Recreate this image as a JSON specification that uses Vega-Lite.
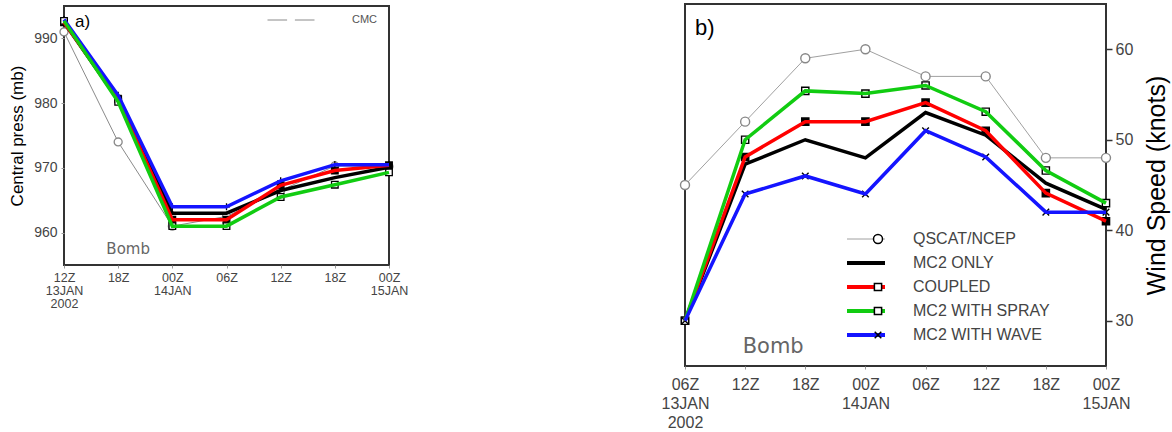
{
  "$schema": "https://vega.github.io/schema/vega-lite/v6.json",
  "padding": {"left": 7, "top": 3, "right": 0, "bottom": 0},
  "background": "white",
  "config": {
    "view": {"stroke": "#333", "strokeWidth": 2},
    "font": "Liberation Sans",
    "legend": {"padding": 0}
  },
  "datasets": {
    "press": [
      {"t": "2002-01-13T12", "series": "CMC", "v": 991},
      {"t": "2002-01-13T18", "series": "CMC", "v": 974},
      {"t": "2002-01-14T00", "series": "CMC", "v": 961},
      {"t": "2002-01-14T06", "series": "CMC", "v": 962.5},
      {"t": "2002-01-14T12", "series": "CMC", "v": 966.5},
      {"t": "2002-01-14T18", "series": "CMC", "v": 970.3},
      {"t": "2002-01-15T00", "series": "CMC", "v": 970.2},
      {"t": "2002-01-13T12", "series": "MC2 ONLY", "v": 992.5},
      {"t": "2002-01-13T18", "series": "MC2 ONLY", "v": 980.5},
      {"t": "2002-01-14T00", "series": "MC2 ONLY", "v": 963},
      {"t": "2002-01-14T06", "series": "MC2 ONLY", "v": 963},
      {"t": "2002-01-14T12", "series": "MC2 ONLY", "v": 966.5},
      {"t": "2002-01-14T18", "series": "MC2 ONLY", "v": 968.5},
      {"t": "2002-01-15T00", "series": "MC2 ONLY", "v": 970.1},
      {"t": "2002-01-13T12", "series": "COUPLED", "v": 992.5},
      {"t": "2002-01-13T18", "series": "COUPLED", "v": 980.6},
      {"t": "2002-01-14T00", "series": "COUPLED", "v": 962},
      {"t": "2002-01-14T06", "series": "COUPLED", "v": 962},
      {"t": "2002-01-14T12", "series": "COUPLED", "v": 967.3},
      {"t": "2002-01-14T18", "series": "COUPLED", "v": 969.6},
      {"t": "2002-01-15T00", "series": "COUPLED", "v": 970.4},
      {"t": "2002-01-13T12", "series": "MC2 WITH WAVE", "v": 992.9},
      {"t": "2002-01-13T18", "series": "MC2 WITH WAVE", "v": 981.2},
      {"t": "2002-01-14T00", "series": "MC2 WITH WAVE", "v": 964},
      {"t": "2002-01-14T06", "series": "MC2 WITH WAVE", "v": 964},
      {"t": "2002-01-14T12", "series": "MC2 WITH WAVE", "v": 968},
      {"t": "2002-01-14T18", "series": "MC2 WITH WAVE", "v": 970.5},
      {"t": "2002-01-15T00", "series": "MC2 WITH WAVE", "v": 970.5},
      {"t": "2002-01-13T12", "series": "MC2 WITH SPRAY", "v": 992.7},
      {"t": "2002-01-13T18", "series": "MC2 WITH SPRAY", "v": 980.2},
      {"t": "2002-01-14T00", "series": "MC2 WITH SPRAY", "v": 961},
      {"t": "2002-01-14T06", "series": "MC2 WITH SPRAY", "v": 961},
      {"t": "2002-01-14T12", "series": "MC2 WITH SPRAY", "v": 965.5},
      {"t": "2002-01-14T18", "series": "MC2 WITH SPRAY", "v": 967.4},
      {"t": "2002-01-15T00", "series": "MC2 WITH SPRAY", "v": 969.3}
    ],
    "wind": [
      {"t": "2002-01-13T06", "series": "QSCAT/NCEP", "v": 45},
      {"t": "2002-01-13T12", "series": "QSCAT/NCEP", "v": 52},
      {"t": "2002-01-13T18", "series": "QSCAT/NCEP", "v": 59},
      {"t": "2002-01-14T00", "series": "QSCAT/NCEP", "v": 60},
      {"t": "2002-01-14T06", "series": "QSCAT/NCEP", "v": 57},
      {"t": "2002-01-14T12", "series": "QSCAT/NCEP", "v": 57},
      {"t": "2002-01-14T18", "series": "QSCAT/NCEP", "v": 48},
      {"t": "2002-01-15T00", "series": "QSCAT/NCEP", "v": 48},
      {"t": "2002-01-13T06", "series": "MC2 ONLY", "v": 30},
      {"t": "2002-01-13T12", "series": "MC2 ONLY", "v": 47.3},
      {"t": "2002-01-13T18", "series": "MC2 ONLY", "v": 50},
      {"t": "2002-01-14T00", "series": "MC2 ONLY", "v": 48},
      {"t": "2002-01-14T06", "series": "MC2 ONLY", "v": 53},
      {"t": "2002-01-14T12", "series": "MC2 ONLY", "v": 50.5},
      {"t": "2002-01-14T18", "series": "MC2 ONLY", "v": 45.2},
      {"t": "2002-01-15T00", "series": "MC2 ONLY", "v": 42.3},
      {"t": "2002-01-13T06", "series": "COUPLED", "v": 30},
      {"t": "2002-01-13T12", "series": "COUPLED", "v": 48.1},
      {"t": "2002-01-13T18", "series": "COUPLED", "v": 52},
      {"t": "2002-01-14T00", "series": "COUPLED", "v": 52},
      {"t": "2002-01-14T06", "series": "COUPLED", "v": 54.1},
      {"t": "2002-01-14T12", "series": "COUPLED", "v": 51},
      {"t": "2002-01-14T18", "series": "COUPLED", "v": 44.1},
      {"t": "2002-01-15T00", "series": "COUPLED", "v": 41},
      {"t": "2002-01-13T06", "series": "MC2 WITH SPRAY", "v": 30},
      {"t": "2002-01-13T12", "series": "MC2 WITH SPRAY", "v": 50},
      {"t": "2002-01-13T18", "series": "MC2 WITH SPRAY", "v": 55.4},
      {"t": "2002-01-14T00", "series": "MC2 WITH SPRAY", "v": 55.1},
      {"t": "2002-01-14T06", "series": "MC2 WITH SPRAY", "v": 56},
      {"t": "2002-01-14T12", "series": "MC2 WITH SPRAY", "v": 53.1},
      {"t": "2002-01-14T18", "series": "MC2 WITH SPRAY", "v": 46.6},
      {"t": "2002-01-15T00", "series": "MC2 WITH SPRAY", "v": 43},
      {"t": "2002-01-13T06", "series": "MC2 WITH WAVE", "v": 30},
      {"t": "2002-01-13T12", "series": "MC2 WITH WAVE", "v": 44},
      {"t": "2002-01-13T18", "series": "MC2 WITH WAVE", "v": 46},
      {"t": "2002-01-14T00", "series": "MC2 WITH WAVE", "v": 44},
      {"t": "2002-01-14T06", "series": "MC2 WITH WAVE", "v": 51},
      {"t": "2002-01-14T12", "series": "MC2 WITH WAVE", "v": 48.1},
      {"t": "2002-01-14T18", "series": "MC2 WITH WAVE", "v": 42},
      {"t": "2002-01-15T00", "series": "MC2 WITH WAVE", "v": 42}
    ]
  },
  "bounds": "full",
  "spacing": 250,
  "resolve": {
    "scale": {"x": "independent", "y": "independent", "color": "independent", "shape": "independent"},
    "legend": {"color": "independent", "shape": "independent"}
  },
  "hconcat": [
    {
      "bounds": "full",
      "spacing": -1,
      "resolve": {
        "scale": {"x": "independent", "y": "independent", "color": "independent", "shape": "independent"},
        "legend": {"color": "independent", "shape": "independent"}
      },
      "vconcat": [
        {
          "width": 325,
          "height": 2,
          "view": {"stroke": null},
          "data": {"values": [{"label": ""}]},
          "mark": {"type": "rect", "opacity": 0},
          "encoding": {}
        },
        {
          "width": 325,
          "height": 259,
          "data": {"name": "press"},
          "encoding": {
            "x": {
              "field": "t", "type": "ordinal",
              "scale": {"type": "point", "padding": 0, "domain": ["2002-01-13T12", "2002-01-13T18", "2002-01-14T00", "2002-01-14T06", "2002-01-14T12", "2002-01-14T18", "2002-01-15T00"]},
              "axis": {
                "title": null, "domain": false, "grid": false,
                "tickSize": 3, "tickColor": "#999",
                "labelExpr": "datum.index == 0 ? [substring(datum.label, 11, 13) + 'Z', substring(datum.label, 8, 10) + 'JAN', '2002'] : (substring(datum.label, 11, 13) == '00' ? [substring(datum.label, 11, 13) + 'Z', substring(datum.label, 8, 10) + 'JAN'] : substring(datum.label, 11, 13) + 'Z')",
                "labelFontSize": 12.5, "labelColor": "#444", "labelLineHeight": 13, "labelPadding": 3, "labelAngle": 0,
                "labelFlush": false, "labelOverlap": false, "labelBound": false
              }
            },
            "y": {
              "field": "v", "type": "quantitative",
              "scale": {"domain": [955, 995], "nice": false, "zero": false},
              "axis": {
                "title": "Central press (mb)", "titleFontSize": 17, "titleFontWeight": "normal", "titleColor": "black", "titlePadding": 7,
                "values": [960, 970, 980, 990], "domain": false, "grid": false,
                "tickSize": 3, "tickColor": "#999",
                "labelFontSize": 14, "labelColor": "#444", "labelPadding": 4
              }
            }
          },
          "layer": [
            {
              "transform": [{"filter": "datum.series === 'CMC'"}],
              "mark": {"type": "line", "strokeWidth": 1},
              "encoding": {
                "color": {
                  "field": "series", "type": "nominal",
                  "scale": {"domain": ["CMC", "MC2 ONLY", "COUPLED", "MC2 WITH SPRAY", "MC2 WITH WAVE"], "range": ["#8a8a8a", "#000000", "#ff0000", "#11cc11", "#1414ff"]},
                  "legend": {
                    "values": ["CMC"], "orient": "none", "legendX": 203, "legendY": 8, "title": null, "zindex": 1,
                    "symbolType": "stroke", "symbolSize": 2209, "clipHeight": 12,
                    "labelFontSize": 11, "labelColor": "#555", "labelOffset": 37,
                    "encode": {"symbols": {"update": {"stroke": {"value": "#777"}, "strokeWidth": {"value": 1}, "opacity": {"value": 1}}}}
                  }
                }
              }
            },
            {
              "mark": {"type": "point", "filled": false, "size": 2209, "strokeWidth": 1.3, "opacity": 1},
              "encoding": {
                "shape": {
                  "field": "series", "type": "nominal",
                  "sort": ["CMC", "MC2 ONLY", "COUPLED", "MC2 WITH SPRAY", "MC2 WITH WAVE"],
                  "scale": {"range": [
                    "M-0.17,0A0.17,0.17 0 1,1 0.17,0A0.17,0.17 0 1,1 -0.17,0Z",
                    "M0,0Z",
                    "M-0.14,-0.14H0.14V0.14H-0.14Z",
                    "M-0.14,-0.14H0.14V0.14H-0.14Z",
                    "M-0.15,0H0.15M0,-0.15V0.15"
                  ]},
                  "legend": {
                    "values": ["CMC"], "orient": "none", "legendX": 203, "legendY": 8, "title": null, "zindex": 2,
                    "symbolSize": 2209, "clipHeight": 12,
                    "symbolStrokeColor": "#888", "symbolFillColor": "white", "symbolStrokeWidth": 1,
                    "labelFontSize": 11, "labelOpacity": 0, "labelOffset": 37
                  }
                },
                "stroke": {"condition": {"test": "datum.series === 'CMC'", "value": "#888"}, "value": "black"},
                "fill": {"condition": {"test": "datum.series === 'COUPLED'", "value": "black"}, "value": "white"}
              }
            },
            {
              "transform": [{"filter": "datum.series !== 'CMC'"}],
              "mark": {"type": "line", "strokeWidth": 3.5},
              "encoding": {
                "color": {
                  "field": "series", "type": "nominal",
                  "scale": {"domain": ["CMC", "MC2 ONLY", "COUPLED", "MC2 WITH SPRAY", "MC2 WITH WAVE"], "range": ["#8a8a8a", "#000000", "#ff0000", "#11cc11", "#1414ff"]},
                  "legend": {
                    "values": ["CMC"], "orient": "none", "legendX": 203, "legendY": 8, "title": null, "zindex": 1,
                    "symbolType": "stroke", "symbolSize": 2209, "clipHeight": 12,
                    "labelFontSize": 11, "labelColor": "#555", "labelOffset": 37,
                    "encode": {"symbols": {"update": {"stroke": {"value": "#777"}, "strokeWidth": {"value": 1}, "opacity": {"value": 1}}}}
                  }
                }
              }
            },
            {
              "transform": [{"filter": "datum.series === 'CMC' && datum.t === '2002-01-13T12'"}],
              "mark": {"type": "text", "text": "a)", "fontSize": 17, "align": "left", "baseline": "middle", "dx": 11, "color": "black"},
              "encoding": {
                "x": {"datum": "2002-01-13T12", "type": "ordinal"},
                "y": {"datum": 992.6, "type": "quantitative"}
              }
            },
            {
              "transform": [{"filter": "datum.series === 'CMC' && datum.t === '2002-01-13T12'"}],
              "mark": {"type": "text", "text": "Bomb", "font": "DejaVu Sans", "fontSize": 15, "align": "center", "baseline": "middle", "dx": 10, "color": "#666"},
              "encoding": {
                "x": {"datum": "2002-01-13T18", "type": "ordinal"},
                "y": {"datum": 957.5, "type": "quantitative"}
              }
            }
          ]
        }
      ]
    },
    {
      "width": 421,
      "height": 362,
      "data": {"name": "wind"},
      "encoding": {
        "x": {
          "field": "t", "type": "ordinal",
          "scale": {"type": "point", "padding": 0, "domain": ["2002-01-13T06", "2002-01-13T12", "2002-01-13T18", "2002-01-14T00", "2002-01-14T06", "2002-01-14T12", "2002-01-14T18", "2002-01-15T00"]},
          "axis": {
            "title": null, "domain": false, "grid": false,
            "tickSize": 3, "tickColor": "#999",
            "labelExpr": "datum.index == 0 ? [substring(datum.label, 11, 13) + 'Z', substring(datum.label, 8, 10) + 'JAN', '2002'] : (substring(datum.label, 11, 13) == '00' ? [substring(datum.label, 11, 13) + 'Z', substring(datum.label, 8, 10) + 'JAN'] : substring(datum.label, 11, 13) + 'Z')",
            "labelFontSize": 16, "labelColor": "#444", "labelLineHeight": 19, "labelPadding": 7, "labelAngle": 0,
            "labelFlush": false, "labelOverlap": false, "labelBound": false
          }
        },
        "y": {
          "field": "v", "type": "quantitative",
          "scale": {"domain": [25, 65], "nice": false, "zero": false},
          "axis": {
            "orient": "right",
            "title": "Wind Speed (knots)", "titleFontSize": 25, "titleFontWeight": "normal", "titleColor": "black", "titleAngle": 270, "titlePadding": 37,
            "values": [30, 40, 50, 60], "domain": false, "grid": false,
            "tickSize": 6, "tickColor": "#333", "tickWidth": 1.5,
            "labelFontSize": 16, "labelColor": "#444", "labelPadding": 3
          }
        }
      },
      "layer": [
        {
          "transform": [{"filter": "datum.series === 'QSCAT/NCEP'"}],
          "mark": {"type": "line", "strokeWidth": 1},
          "encoding": {
            "color": {
              "field": "series", "type": "nominal",
              "scale": {"domain": ["QSCAT/NCEP", "MC2 ONLY", "COUPLED", "MC2 WITH SPRAY", "MC2 WITH WAVE"], "range": ["#a0a0a0", "#000000", "#ff0000", "#11cc11", "#1414ff"]},
              "legend": {
                "orient": "none", "legendX": 162, "legendY": 226, "title": null, "zindex": 1,
                "symbolType": "stroke", "symbolSize": 3600, "clipHeight": 18, "rowPadding": 6,
                "labelFontSize": 16, "labelColor": "#444", "labelOffset": 50,
                "encode": {"symbols": {"update": {"strokeWidth": {"signal": "datum.value === 'QSCAT/NCEP' ? 1 : 4"}, "opacity": {"value": 1}}}}
              }
            }
          }
        },
        {
          "mark": {"type": "point", "filled": false, "size": 3600, "strokeWidth": 1.4, "opacity": 1},
          "encoding": {
            "shape": {
              "field": "series", "type": "nominal",
              "sort": ["QSCAT/NCEP", "MC2 ONLY", "COUPLED", "MC2 WITH SPRAY", "MC2 WITH WAVE"],
              "scale": {"range": [
                "M-0.15,0A0.15,0.15 0 1,1 0.15,0A0.15,0.15 0 1,1 -0.15,0Z",
                "M0,0Z",
                "M-0.12,-0.12H0.12V0.12H-0.12Z",
                "M-0.12,-0.12H0.12V0.12H-0.12Z",
                "M-0.11,-0.11L0.11,0.11M-0.11,0.11L0.11,-0.11"
              ]},
              "legend": {
                "orient": "none", "legendX": 162, "legendY": 226, "title": null, "zindex": 2,
                "symbolSize": 3600, "clipHeight": 18, "rowPadding": 6,
                "labelFontSize": 16, "labelOpacity": 0, "labelOffset": 50,
                "encode": {"symbols": {"update": {
                  "stroke": {"signal": "datum.value === 'QSCAT/NCEP' ? '#888' : 'black'"},
                  "fill": {"signal": "datum.value === 'COUPLED' ? 'black' : (datum.value === 'MC2 ONLY' ? 'transparent' : 'white')"},
                  "strokeWidth": {"value": 1.5}, "opacity": {"value": 1}
                }}}
              }
            },
            "stroke": {"condition": {"test": "datum.series === 'QSCAT/NCEP'", "value": "#888"}, "value": "black"},
            "fill": {"condition": {"test": "datum.series === 'COUPLED'", "value": "black"}, "value": "white"}
          }
        },
        {
          "transform": [{"filter": "datum.series !== 'QSCAT/NCEP'"}],
          "mark": {"type": "line", "strokeWidth": 3.5},
          "encoding": {
            "color": {
              "field": "series", "type": "nominal",
              "scale": {"domain": ["QSCAT/NCEP", "MC2 ONLY", "COUPLED", "MC2 WITH SPRAY", "MC2 WITH WAVE"], "range": ["#a0a0a0", "#000000", "#ff0000", "#11cc11", "#1414ff"]},
              "legend": {
                "orient": "none", "legendX": 162, "legendY": 226, "title": null, "zindex": 1,
                "symbolType": "stroke", "symbolSize": 3600, "clipHeight": 18, "rowPadding": 6,
                "labelFontSize": 16, "labelColor": "#444", "labelOffset": 50,
                "encode": {"symbols": {"update": {"strokeWidth": {"signal": "datum.value === 'QSCAT/NCEP' ? 1 : 4"}, "opacity": {"value": 1}}}}
              }
            }
          }
        },
        {
          "transform": [{"filter": "datum.series === 'QSCAT/NCEP' && datum.t === '2002-01-13T06'"}],
          "mark": {"type": "text", "text": "b)", "fontSize": 22, "align": "left", "baseline": "middle", "dx": 10, "color": "black"},
          "encoding": {
            "x": {"datum": "2002-01-13T06", "type": "ordinal"},
            "y": {"datum": 62.4, "type": "quantitative"}
          }
        },
        {
          "transform": [{"filter": "datum.series === 'QSCAT/NCEP' && datum.t === '2002-01-13T06'"}],
          "mark": {"type": "text", "text": "Bomb", "font": "DejaVu Sans", "fontSize": 21, "align": "center", "baseline": "middle", "dx": 28, "color": "#666"},
          "encoding": {
            "x": {"datum": "2002-01-13T12", "type": "ordinal"},
            "y": {"datum": 27.1, "type": "quantitative"}
          }
        }
      ]
    }
  ]
}
